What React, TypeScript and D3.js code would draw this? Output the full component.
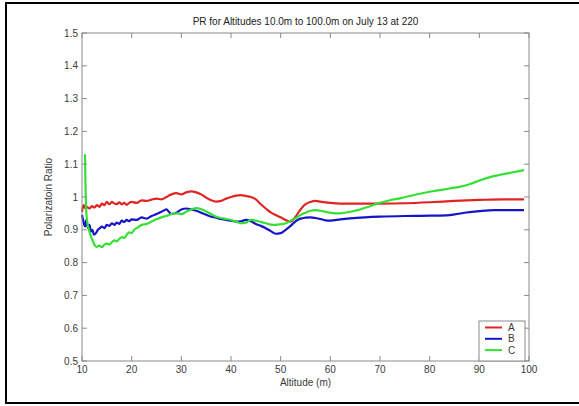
import React from 'react';
import * as d3 from 'd3';

// tick values
const xTicks = [10, 20, 30, 40, 50, 60, 70, 80, 90, 100];
const yTicks = [0.5, 0.6, 0.7, 0.8, 0.9, 1, 1.1, 1.2, 1.3, 1.4, 1.5];

const seriesNames = ['A', 'B', 'C'];
const seriesColors = ['#e02424', '#1414c8', '#34e034'];

// A (red)
const altA = [10, 10.3, 10.7, 11, 11.5, 12, 12.5, 13, 13.5, 14, 14.5, 15, 15.5, 16, 16.5, 17, 17.5, 18, 18.5, 19, 19.5, 20, 21, 22, 23, 24, 25, 26, 27, 28, 29, 30, 31, 32, 33, 34, 35, 36, 37, 38, 39, 40, 41, 42, 43, 44, 45, 46, 47, 48, 49, 50, 51, 52, 53, 54, 55, 56, 57, 58, 60, 62, 65, 70, 75, 80, 85, 90, 95, 99];
const prA = [0.955, 0.975, 0.965, 0.97, 0.965, 0.972, 0.968, 0.975, 0.97, 0.98, 0.975, 0.985, 0.978, 0.985, 0.98, 0.978, 0.984, 0.978, 0.982, 0.976, 0.982, 0.985, 0.982, 0.99, 0.988, 0.992, 0.995, 0.993, 1.0, 1.008, 1.012, 1.008, 1.014, 1.017, 1.014, 1.008, 0.998, 0.99, 0.986, 0.988, 0.995, 1.0, 1.004, 1.006, 1.003, 1.0, 0.993, 0.978, 0.965, 0.953, 0.945, 0.938, 0.93, 0.925, 0.94, 0.962, 0.978, 0.985, 0.988, 0.986, 0.982, 0.98, 0.98, 0.98, 0.981, 0.984, 0.988, 0.991, 0.993, 0.993];

// B (blue)
const altB = [10, 10.3, 10.6, 10.9, 11.2, 11.5, 11.8, 12.1, 12.4, 12.8, 13.2, 13.6, 14, 14.5, 15, 15.5, 16, 16.5, 17, 17.5, 18, 18.5, 19, 19.5, 20, 21, 22, 23, 24, 25, 26, 27, 27.5, 28, 29, 30, 31, 32, 33, 34, 35, 36, 37, 38, 39, 40, 41, 42, 43, 44, 45, 46, 47, 48, 49, 50, 51, 52, 53, 54, 55, 56, 57, 58, 59, 60, 62, 64, 67, 70, 75, 80, 84, 87, 90, 93, 96, 99];
const prB = [0.945, 0.925, 0.91, 0.93, 0.905, 0.915, 0.895, 0.9, 0.885, 0.89, 0.9, 0.905, 0.91, 0.905, 0.915, 0.912, 0.92, 0.915, 0.922, 0.918, 0.928, 0.924, 0.93, 0.926, 0.932, 0.93, 0.938, 0.934, 0.942, 0.948, 0.955, 0.962, 0.955, 0.948, 0.952, 0.962, 0.965, 0.962, 0.958, 0.952, 0.946, 0.94, 0.937, 0.933, 0.93, 0.928, 0.925, 0.926, 0.93, 0.926, 0.918, 0.912, 0.905, 0.896, 0.888, 0.89, 0.9, 0.912, 0.926, 0.934, 0.937, 0.938, 0.936, 0.933, 0.929, 0.928, 0.932, 0.935, 0.938, 0.94, 0.942, 0.943, 0.945, 0.952, 0.957, 0.96, 0.96, 0.96];

// C (green)
const altC = [10.6, 10.75, 11, 11.4, 11.8, 12.2, 12.6, 13, 13.5, 14, 14.5, 15, 15.5, 16, 16.5, 17, 17.5, 18, 18.5, 19, 19.5, 20, 20.5, 21, 21.5, 22, 23, 24, 25, 26, 27, 28, 29, 30, 31, 32, 33, 34, 35, 36, 37, 38, 39, 40, 41, 42, 43, 44, 45, 46, 47, 48, 49, 50, 51, 52, 53, 54, 55, 56, 57, 58, 59, 60, 61, 62, 64, 66, 68, 70, 72, 74, 76, 78, 80, 82, 84, 86, 88, 90, 92, 94, 96, 98, 99];
const prC = [1.13, 1.0, 0.93, 0.9, 0.88, 0.865, 0.852, 0.848, 0.852, 0.847, 0.855, 0.858, 0.855, 0.862, 0.868, 0.865, 0.872, 0.878, 0.875, 0.885, 0.892, 0.89, 0.9, 0.905, 0.91, 0.915, 0.918, 0.925, 0.932, 0.938, 0.942, 0.948, 0.95, 0.948, 0.955, 0.962, 0.966, 0.963, 0.956, 0.948, 0.94, 0.936, 0.933, 0.93, 0.925, 0.92, 0.922, 0.93, 0.928, 0.924, 0.92, 0.916, 0.915, 0.917, 0.92, 0.928, 0.935, 0.945, 0.952, 0.958, 0.96, 0.958, 0.955, 0.952, 0.95, 0.95, 0.955, 0.962, 0.972, 0.982, 0.99, 0.996, 1.003, 1.01, 1.016, 1.021, 1.026, 1.031, 1.039, 1.05, 1.06, 1.067, 1.073, 1.079, 1.082];

const W = 579;
const H = 406;
const left = 82, right = 529, top = 33, bottom = 361;
const font = 'Arial, "Liberation Sans", Helvetica, sans-serif';
const fs = 10;
const axisColor = '#8a8a8a';
const textColor = '#3a3a3a';

const App = () => {
  const x = d3.scaleLinear().domain([10, 100]).range([left, right]);
  const y = d3.scaleLinear().domain([0.5, 1.5]).range([bottom, top]);

  const series = [
    { alt: altA, pr: prA },
    { alt: altB, pr: prB },
    { alt: altC, pr: prC },
  ];

  const line = d3.line<[number, number]>()
    .x(d => x(d[0]))
    .y(d => y(d[1]))
    .curve(d3.curveMonotoneX);

  const tick = 5;

  return (
    <svg width={W} height={H} style={{ position: 'absolute', left: 0, top: 0, background: '#fff' }}>
      {/* outer frame */}
      <rect x={6} y={3} width={W + 20} height={400} fill="none" stroke="#000" strokeWidth={2} />

      <text x={(left + right) / 2} y={25} textAnchor="middle" fontFamily={font} fontSize={fs} fill="#222">
        PR for Altitudes 10.0m to 100.0m on July 13 at 220
      </text>

      {/* data lines */}
      <g>
        {series.map((s, i) => (
          <path
            key={seriesNames[i]}
            d={line(s.alt.map((a, j) => [a, s.pr[j]] as [number, number])) || ''}
            fill="none"
            stroke={seriesColors[i]}
            strokeWidth={2.2}
            strokeLinejoin="round"
          />
        ))}
      </g>

      {/* axes box */}
      <rect x={left} y={top} width={right - left} height={bottom - top} fill="none" stroke={axisColor} strokeWidth={1} />

      {/* x ticks */}
      {xTicks.map(t => (
        <g key={'x' + t}>
          <line x1={x(t)} x2={x(t)} y1={bottom} y2={bottom - tick} stroke={axisColor} />
          <line x1={x(t)} x2={x(t)} y1={top} y2={top + tick} stroke={axisColor} />
          <text x={x(t)} y={bottom + 12} textAnchor="middle" fontFamily={font} fontSize={fs} fill={textColor}>
            {t}
          </text>
        </g>
      ))}

      {/* y ticks */}
      {yTicks.map(t => (
        <g key={'y' + t}>
          <line x1={left} x2={left + tick} y1={y(t)} y2={y(t)} stroke={axisColor} />
          <line x1={right} x2={right - tick} y1={y(t)} y2={y(t)} stroke={axisColor} />
          <text x={left - 4} y={y(t) + 3.5} textAnchor="end" fontFamily={font} fontSize={fs} fill={textColor}>
            {String(t)}
          </text>
        </g>
      ))}

      <text x={(left + right) / 2} y={386} textAnchor="middle" fontFamily={font} fontSize={fs} fill={textColor}>
        Altitude (m)
      </text>
      <text
        transform={`translate(52,${(top + bottom) / 2}) rotate(-90)`}
        textAnchor="middle"
        fontFamily={font}
        fontSize={fs}
        fill={textColor}
      >
        Polarizatoin Ratio
      </text>

      {/* legend */}
      <g>
        <rect x={479} y={321} width={46} height={40} fill="#fff" stroke={axisColor} strokeWidth={1} />
        {seriesNames.map((n, i) => (
          <g key={'leg' + n}>
            <line x1={485} x2={502} y1={327.5 + i * 11.3} y2={327.5 + i * 11.3} stroke={seriesColors[i]} strokeWidth={2} />
            <text x={508} y={331 + i * 11.3} fontFamily={font} fontSize={fs} fill={textColor}>
              {n}
            </text>
          </g>
        ))}
      </g>
    </svg>
  );
};

export default App;
